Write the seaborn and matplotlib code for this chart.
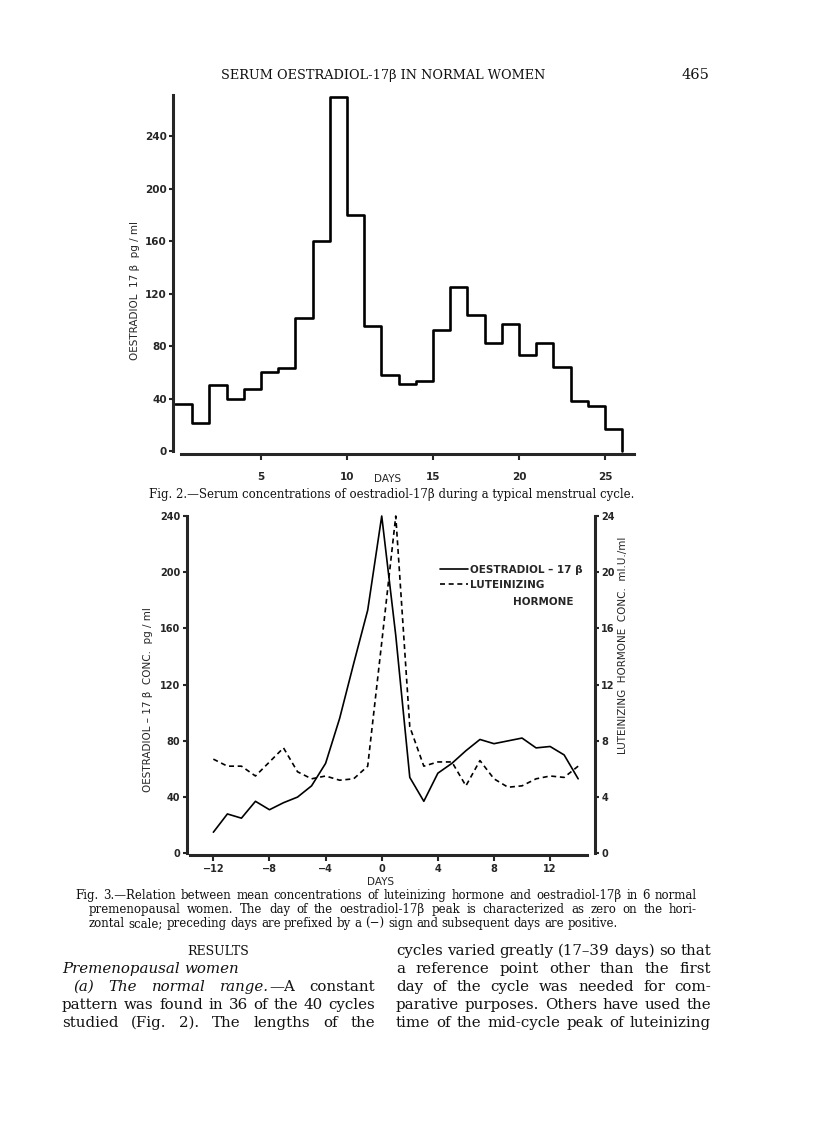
import matplotlib
matplotlib.use("Agg")
import matplotlib.pyplot as plt
import seaborn as sns

# ---- data ----
# fig. 2: one typical cycle, value per day (last 0 closes the step)
fig2_days = list(range(0, 27))
fig2_oestradiol = [36, 21, 50, 40, 47, 60, 63, 101, 160, 270, 180, 95, 58, 51, 53,
                   92, 125, 104, 82, 97, 73, 82, 64, 38, 34, 17, 0]
fig2_xticks = [5, 10, 15, 20, 25]
fig2_yticks = [0, 40, 80, 120, 160, 200, 240]

# fig. 3: means of 6 women, day 0 = oestradiol peak
fig3_days = list(range(-12, 15))
fig3_oestradiol = [15, 28, 25, 37, 31, 36, 40, 48, 64, 96, 135, 173, 240, 155,
                   54, 37, 57, 64, 73, 81, 78, 80, 82, 75, 76, 70, 53]
fig3_lh = [6.7, 6.2, 6.2, 5.5, 6.5, 7.5, 5.8, 5.3, 5.5, 5.2, 5.3, 6.2, 15.0, 24.0,
           9.0, 6.2, 6.5, 6.5, 4.8, 6.6, 5.3, 4.7, 4.8, 5.3, 5.5, 5.4, 6.2]
fig3_xticks = [-12, -8, -4, 0, 4, 8, 12]
fig3_yticks = [0, 40, 80, 120, 160, 200, 240]
fig3_lh_ticks = [0, 4, 8, 12, 16, 20, 24]

W, H = 816, 1138
sns.set_style("ticks")
plt.rcParams['font.family'] = ['Liberation Sans Narrow', 'DejaVu Sans']
plt.rcParams['font.weight'] = 'bold'
plt.rcParams['axes.linewidth'] = 2.2
serif = ['DejaVu Serif']


def box(left, right, top, bottom):
    # pixel box on the page -> figure fraction
    return [left / W, 1 - bottom / H, (right - left) / W, (bottom - top) / H]


fig = plt.figure(figsize=(W / 100, H / 100), dpi=100)
fig.patch.set_facecolor('white')

# ---------------- Fig. 2 ----------------
ax2 = fig.add_axes(box(173.3, 634.2, 94, 454.3))
sns.lineplot(x=fig2_days, y=fig2_oestradiol, ax=ax2, color='black', lw=1.9,
             drawstyle='steps-post')
ax2.set_xlim(-0.1, 26.7)
ax2.set_ylim(-2.5, 272)
ax2.spines[['top', 'right']].set_visible(False)
ax2.spines['left'].set_bounds(0, 271)
ax2.spines['bottom'].set_bounds(0.35, 26.7)
ax2.set_xticks(fig2_xticks)
ax2.set_yticks(fig2_yticks)
ax2.tick_params(axis='y', length=3, width=1.5, pad=1.5, labelsize=7.5)
ax2.tick_params(axis='x', length=4, width=1.5, pad=9, labelsize=7.5)
ax2.set_xlabel('DAYS', fontsize=7.5, va='top')
ax2.xaxis.set_label_coords((388 - 173.3) / 460.9, -(474 - 454.3) / 360.3)
ax2.set_ylabel('OESTRADIOL  17 β  pg / ml', fontsize=7.5)
ax2.yaxis.set_label_coords((140 - 173.3) / 460.9, (454.3 - 291) / 360.3)

# ---------------- Fig. 3 ----------------
ax3 = fig.add_axes(box(186.7, 595.0, 513.2, 854.7))
sns.lineplot(x=fig3_days, y=fig3_oestradiol, ax=ax3, color='black', lw=1.2)
ax3.set_xlim(-13.9, 15.2)
ax3.set_ylim(-1, 242)
ax3.spines[['top', 'right']].set_visible(False)
ax3.spines['left'].set_bounds(0, 240)
ax3.spines['bottom'].set_bounds(-13.65, 14.6)
ax3.set_xticks(fig3_xticks)
ax3.set_yticks(fig3_yticks)
ax3.tick_params(axis='y', length=3, width=1.5, pad=1.5, labelsize=7)
ax3.tick_params(axis='x', length=4, width=1.5, pad=2.5, labelsize=7)
ax3.set_xlabel('DAYS', fontsize=7.5, va='top')
ax3.xaxis.set_label_coords((381 - 186.7) / 408.3, -(877 - 854.7) / 341.5)
ax3.set_ylabel('OESTRADIOL – 17 β  CONC.  pg / ml', fontsize=7.5)
ax3.yaxis.set_label_coords((153 - 186.7) / 408.3, (854.7 - 700) / 341.5)

ax3b = ax3.twinx()
sns.lineplot(x=fig3_days, y=fig3_lh, ax=ax3b, color='black', lw=1.2)
ax3b.lines[0].set_dashes([3, 2.2])
ax3b.set_ylim(-0.1, 24.2)
ax3b.spines[['top', 'left', 'bottom']].set_visible(False)
ax3b.spines['right'].set_bounds(0, 24)
ax3b.set_yticks(fig3_lh_ticks)
ax3b.tick_params(axis='y', length=3, width=1.5, pad=1.5, labelsize=7)
ax3b.set_ylabel('LUTEINIZING  HORMONE  CONC.  mI.U./ml', fontsize=7.5)
ax3b.yaxis.set_label_coords((618 - 186.7) / 408.3, (854.7 - 645) / 341.5)

ax3b.legend(handles=[ax3.lines[0], ax3b.lines[0]],
            labels=['OESTRADIOL – 17 β', 'LUTEINIZING'],
            loc='upper left', bbox_to_anchor=((440 - 186.7) / 408.3, (854.7 - 565) / 341.5),
            frameon=False, fontsize=7.5, handlelength=2.7, handletextpad=0.15,
            labelspacing=0.45, borderpad=0, borderaxespad=0)
fig.text(573 / W, 1 - 602 / H, 'HORMONE', fontsize=7.5, ha='right', va='center')

# ---------------- page text ----------------
rend = fig.canvas.get_renderer()


def text_line(parts, x0, x1, y, size, justify=True):
    # parts: (word, style, glued-to-previous)
    ts, ws, glue = [], [], []
    for p in parts:
        w, st = p[0], p[1]
        g = p[2] if len(p) > 2 else False
        t = fig.text(0, 1 - y / H, w, fontsize=size, family=serif, style=st,
                     weight='normal', va='baseline', color='#111111')
        ts.append(t)
        ws.append(t.get_window_extent(rend).width)
        glue.append(g)
    ngaps = sum(1 for g in glue[1:] if not g)
    if justify and ngaps:
        gap = (x1 - x0 - sum(ws)) / ngaps
    else:
        gap = size * 1.39 * 0.3
    x = x0
    for i, (t, w) in enumerate(zip(ts, ws)):
        if i > 0 and not glue[i]:
            x += gap
        t.set_x(x / W)
        x += w


def words(s, st='normal'):
    return [(w, st) for w in s.split()]


fig.text(383 / W, 1 - 79 / H, 'SERUM OESTRADIOL-17β IN NORMAL WOMEN', fontsize=9.3,
         family=serif, weight='normal', ha='center', va='baseline', color='#111111')
fig.text(709 / W, 1 - 79 / H, '465', fontsize=10.5, family=serif, weight='normal',
         ha='right', va='baseline', color='#111111')

fig.text(392 / W, 1 - 498 / H,
         'Fig. 2.—Serum concentrations of oestradiol-17β during a typical menstrual cycle.',
         fontsize=8.5, family=serif, weight='normal', ha='center', va='baseline',
         color='#111111')

cap_size = 8.5
text_line(words('Fig. 3.—Relation between mean concentrations of luteinizing hormone '
                'and oestradiol-17β in 6 normal'), 75, 697, 899, cap_size)
text_line(words('premenopausal women.  The day of the oestradiol-17β peak is '
                'characterized as zero on the hori-'), 89, 697, 913, cap_size)
text_line(words('zontal scale; preceding days are prefixed by a (−) sign and '
                'subsequent days are positive.'), 89, 697, 927, cap_size, justify=False)

body = 10.8
fig.text(218 / W, 1 - 955 / H, 'RESULTS', fontsize=9, family=serif,
         weight='normal', ha='center', va='baseline', color='#111111')
text_line(words('Premenopausal women', 'italic'), 62, 375, 973, body, justify=False)
text_line(words('(a) The normal', 'italic') + [('range.', 'italic'), ('—A', 'normal', True),
                                               ('constant', 'normal')],
          73, 375, 991, body)
text_line(words('pattern was found in 36 of the 40 cycles'), 62, 375, 1009, body)
text_line(words('studied (Fig. 2). The lengths of the'), 62, 375, 1027, body)

right_col = ['cycles varied greatly (17–39 days) so that',
             'a reference point other than the first',
             'day of the cycle was needed for com-',
             'parative purposes. Others have used the',
             'time of the mid-cycle peak of luteinizing']
for i, line in enumerate(right_col):
    text_line(words(line), 396, 711, 955 + 18 * i, body)

fig.savefig('out.png', dpi=100, facecolor='white')
